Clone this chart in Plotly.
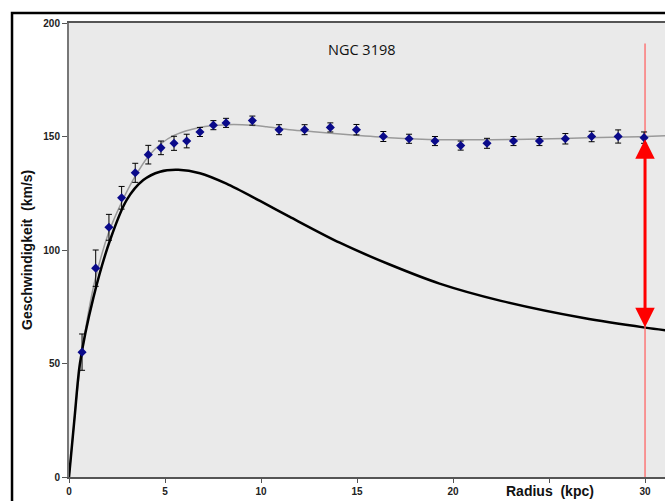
import plotly.graph_objects as go

# Observed rotation curve data (NGC 3198)
radius = [0.68, 1.39, 2.08, 2.74, 3.45, 4.13, 4.79, 5.47, 6.13, 6.82, 7.52, 8.18,
          9.55, 10.94, 12.27, 13.61, 14.97, 16.37, 17.71, 19.06, 20.40, 21.77,
          23.15, 24.50, 25.85, 27.22, 28.60, 29.95]
velocity = [55, 92, 110, 123, 134, 142, 145, 147, 148, 152, 155, 156,
            157, 153, 153, 154, 153, 150, 149, 148, 146, 147,
            148, 148, 149, 150, 150, 149.5]
errors = [8, 8, 5.7, 5, 4.2, 4.1, 3, 3.1, 3, 2, 2, 2,
          2, 2.2, 2.2, 2, 2.3, 2.2, 2, 2, 2, 2.2,
          2, 2, 2.3, 2.3, 2.9, 2.5]

# Fitted total curve (gray)
fit_r = [0, 0.3, 0.6, 1.0, 1.39, 2.08, 2.74, 3.45, 4.13, 4.79, 5.47, 6.8, 8.2, 9.5,
         10.3, 11.5, 12.9, 14.6, 16.7, 19.3, 22.0, 24.5, 27.0, 29.7, 31.1]
fit_v = [0, 27, 50, 72, 88, 108, 121, 132.5, 141.2, 146.8, 150.5, 154, 155.2, 155,
         154.3, 153, 152, 150.8, 149.5, 148.6, 148.6, 148.9, 149.4, 149.9, 150.3]

# Visible-matter (Keplerian-like) curve (black)
kep_r = [0, 0.3, 0.57, 1.27, 2.14, 3.0, 3.87, 4.74, 5.69, 6.82, 8.2, 9.95,
         11.5, 14.1, 16.7, 19.3, 22.5, 26.8, 30.0, 31.1]
kep_v = [0, 27, 50, 79, 104.4, 122, 130.8, 134.5, 135.3, 133.8, 129.2, 121.6,
         114.6, 103.2, 93.6, 85.2, 77.6, 70.0, 65.8, 64.6]

x_ticks = [0, 5, 10, 15, 20, 25, 30]
x_tick_labels = ["0", "5", "10", "15", "20", "", "30"]
y_ticks = [0, 50, 100, 150, 200]

marker_r = 30
arrow_top = 149.5
arrow_bottom = 66
redline_top = 191

tick_font = dict(family="Liberation Sans, Arial", size=10, color="#222222", weight="bold")

fig = go.Figure()

fig.add_trace(go.Scatter(x=fit_r, y=fit_v, mode="lines",
                         line=dict(color="#9a9a9a", width=1.5, shape="spline", smoothing=0.8),
                         hoverinfo="skip"))
fig.add_trace(go.Scatter(x=kep_r, y=kep_v, mode="lines",
                         line=dict(color="#000000", width=2.5, shape="spline", smoothing=0.8),
                         hoverinfo="skip"))
fig.add_trace(go.Scatter(x=[marker_r, marker_r], y=[0, redline_top], mode="lines",
                         line=dict(color="#ff6666", width=1.3), hoverinfo="skip"))
fig.add_trace(go.Scatter(x=radius, y=velocity, mode="markers",
                         marker=dict(symbol="diamond", size=7, color="#0a0a8a"),
                         error_y=dict(type="data", array=errors, color="#000000", thickness=1, width=3)))

fig.add_annotation(x=marker_r, y=arrow_bottom, ax=marker_r, ay=arrow_top, xref="x", yref="y",
                   axref="x", ayref="y", text="", showarrow=True, arrowhead=2, arrowside="end+start",
                   arrowsize=1.3, arrowwidth=3, arrowcolor="#ff0000", standoff=0, startstandoff=0)

fig.add_annotation(text="NGC 3198", x=0.4916, y=0.967, xref="paper", yref="paper", showarrow=False,
                   font=dict(family="Open Sans, Arial", size=14.5, color="#111111"))
fig.add_annotation(text="<b>Geschwindigkeit&nbsp;&nbsp;(km/s)</b>", x=-0.0705, y=0.5, xref="paper",
                   yref="paper", showarrow=False, textangle=-90, xanchor="center", yanchor="middle",
                   font=dict(family="Liberation Sans, Arial", size=14, color="#111111"))
fig.add_annotation(text="<b>Radius&nbsp;&nbsp;(kpc)</b>", x=0.807, y=-0.031, xref="paper", yref="paper",
                   showarrow=False, xanchor="center", yanchor="middle",
                   font=dict(family="Liberation Sans, Arial", size=14, color="#111111"))

# outer black frame
fig.add_shape(type="rect", xref="paper", yref="paper", x0=-0.0956, y0=-0.3, x1=1.2, y1=1.022,
              line=dict(color="#000000", width=2.5), fillcolor="rgba(0,0,0,0)", layer="above")

fig.update_layout(
    width=665, height=501,
    margin=dict(l=69, r=0, t=23, b=24),
    paper_bgcolor="#ffffff", plot_bgcolor="#eaeaea",
    showlegend=False,
    xaxis=dict(range=[0, 31.04], tickvals=x_ticks, ticktext=x_tick_labels, showgrid=False, zeroline=False,
               showline=True, linecolor="#555555", linewidth=1.5, mirror=True, ticks="outside", ticklen=4,
               tickcolor="#555555", tickfont=tick_font),
    yaxis=dict(range=[0, 200], tickvals=y_ticks, showgrid=False, zeroline=False, showline=True,
               linecolor="#777777", linewidth=2, ticks="outside", ticklen=5, tickcolor="#555555",
               tickfont=tick_font),
)

fig.write_html("out.html")
